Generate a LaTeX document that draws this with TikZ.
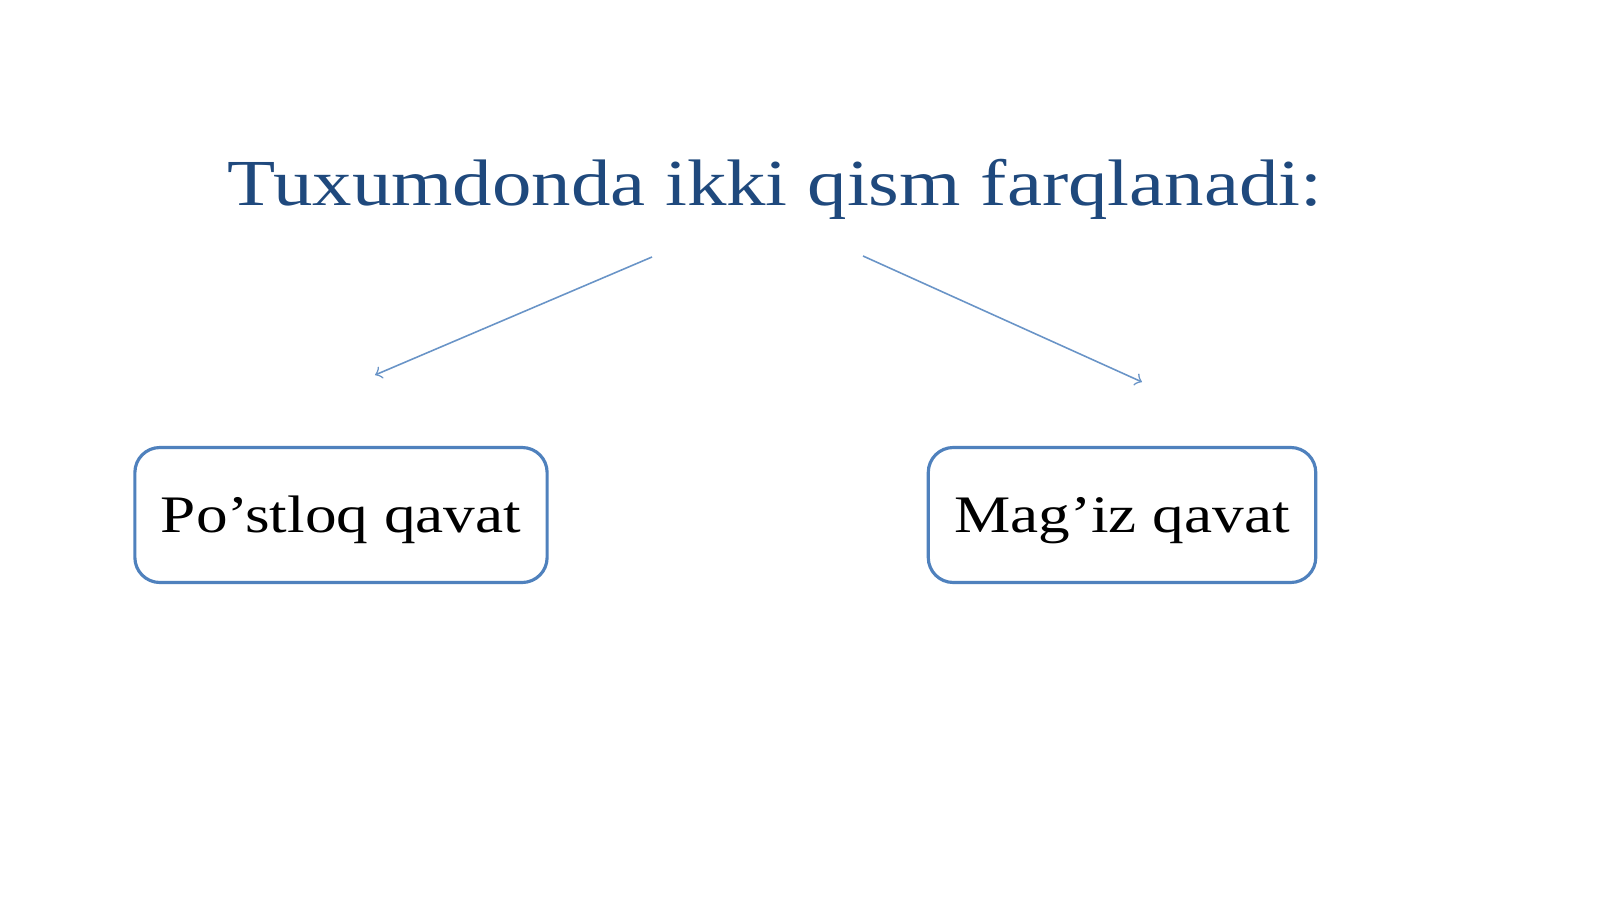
\documentclass[tikz,border=0pt]{standalone}
\usepackage{fontspec}
\setmainfont{Liberation Serif}[FakeStretch=1.2]
\usetikzlibrary{arrows,positioning}
\definecolor{titleblue}{HTML}{1F497D}
\definecolor{boxblue}{HTML}{4F81BD}
\begin{document}
\begin{tikzpicture}[every node/.style={align=center}]
\useasboundingbox (0,0) rectangle (16,9);
\tikzset{partbox/.style={draw=boxblue, line width=0.9pt, rounded corners=0.25cm, fill=white, minimum height=1.35cm, inner xsep=0.26cm, text height=0.47cm, text depth=0.12cm, font=\fontsize{15}{18}\selectfont}}
% Title
\node[text=titleblue, anchor=base, font=\fontsize{18.7}{22}\selectfont] (title) at (7.75,6.95) {Tuxumdonda ikki qism farqlanadi:};
% Parts
\node[partbox] (p1) at (3.41,3.85) {Po’stloq qavat};
\node[partbox] (p2) at (11.22,3.85) {Mag’iz qavat};
% Arrow ends
\coordinate (e1) at (3.75,5.25);
\coordinate (e2) at (11.42,5.18);
% Arrows
\draw[->, boxblue!85, line width=0.45pt] ([shift={(-1.23,-0.52)}]title.base) -- (e1);
\draw[->, boxblue!85, line width=0.45pt] ([shift={(0.88,-0.51)}]title.base) -- (e2);
\end{tikzpicture}
\end{document}
